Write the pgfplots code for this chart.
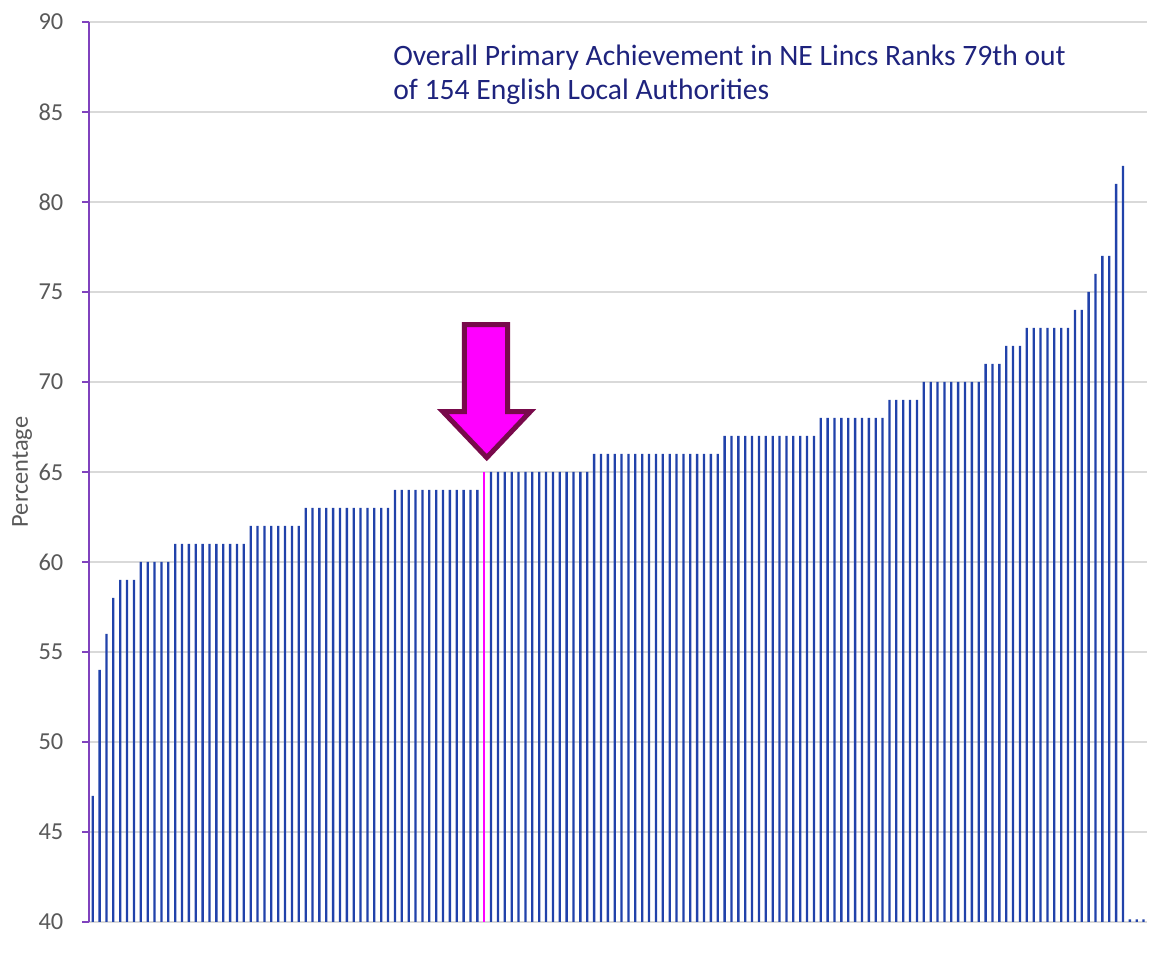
\documentclass[border=0pt]{standalone}
\usepackage{fontspec}
\setmainfont{Carlito}
\usepackage{pgfplots}
\pgfplotsset{compat=1.18}

\definecolor{barblue}{RGB}{33,66,170}
\definecolor{axispurple}{RGB}{128,66,190}
\definecolor{gridgrey}{RGB}{217,217,217}
\definecolor{ticgrey}{RGB}{89,89,89}
\definecolor{titlenavy}{RGB}{30,35,125}
\definecolor{arrowfill}{RGB}{255,0,255}
\definecolor{arrowedge}{RGB}{120,10,75}

\begin{document}
\begin{tikzpicture}
\useasboundingbox (-44.65pt,-19.5pt) rectangle (529.85pt,461pt);
\begin{axis}[
  at={(0,0)}, anchor=south west,
  scale only axis, width=528.85pt, height=450pt,
  xmin=-0.5, xmax=153.5, ymin=40, ymax=90,
  ytick={40,45,...,90}, xtick=\empty,
  ymajorgrids, grid style={draw=gridgrey, line width=1pt},
  axis lines*=left,
  x axis line style={draw=none},
  y axis line style={draw=axispurple, line width=1pt, -},
  ytick style={draw=axispurple, line width=1pt},
  tick align=outside, major tick length=3.5pt,
  yticklabel style={font=\fontsize{12.2}{14}\selectfont, text=ticgrey, xshift=-6pt},
  /pgf/number format/assume math mode=true,
  ylabel={Percentage},
  ylabel style={font=\fontsize{12.2}{14}\selectfont, text=ticgrey, at={(axis description cs:-0.0636,0.5)}, anchor=center},
  clip=true,
]
\addplot[ybar, bar width=1.15pt, bar shift=0pt, fill=barblue, draw=none] coordinates {
(0,47) (1,54) (2,56) (3,58) (4,59) (5,59) (6,59)
(7,60) (8,60) (9,60) (10,60) (11,60)
(12,61) (13,61) (14,61) (15,61) (16,61) (17,61) (18,61) (19,61) (20,61) (21,61) (22,61)
(23,62) (24,62) (25,62) (26,62) (27,62) (28,62) (29,62) (30,62)
(31,63) (32,63) (33,63) (34,63) (35,63) (36,63) (37,63) (38,63) (39,63) (40,63) (41,63) (42,63) (43,63)
(44,64) (45,64) (46,64) (47,64) (48,64) (49,64) (50,64) (51,64) (52,64) (53,64) (54,64) (55,64) (56,64)
(58,65) (59,65) (60,65) (61,65) (62,65) (63,65) (64,65) (65,65) (66,65) (67,65) (68,65) (69,65) (70,65) (71,65) (72,65)
(73,66) (74,66) (75,66) (76,66) (77,66) (78,66) (79,66) (80,66) (81,66) (82,66) (83,66) (84,66) (85,66) (86,66) (87,66) (88,66) (89,66) (90,66) (91,66)
(92,67) (93,67) (94,67) (95,67) (96,67) (97,67) (98,67) (99,67) (100,67) (101,67) (102,67) (103,67) (104,67) (105,67)
(106,68) (107,68) (108,68) (109,68) (110,68) (111,68) (112,68) (113,68) (114,68) (115,68)
(116,69) (117,69) (118,69) (119,69) (120,69)
(121,70) (122,70) (123,70) (124,70) (125,70) (126,70) (127,70) (128,70) (129,70)
(130,71) (131,71) (132,71)
(133,72) (134,72) (135,72)
(136,73) (137,73) (138,73) (139,73) (140,73) (141,73) (142,73)
(143,74) (144,74) (145,75) (146,76) (147,77) (148,77) (149,81) (150,82)
(151,40.15) (152,40.15) (153,40.15)
};
\addplot[ybar, bar width=1.15pt, bar shift=0pt, fill=arrowfill, draw=none] coordinates {(57,65)};
\draw[fill=arrowfill, draw=arrowedge, line width=2.5pt, line join=miter]
  (axis cs:54.1,73.18) -- (axis cs:60.4,73.18) -- (axis cs:60.4,68.35) -- (axis cs:63.7,68.35)
  -- (axis cs:57.37,65.8) -- (axis cs:51.0,68.35) -- (axis cs:54.1,68.35) -- cycle;
\node[anchor=base west, inner sep=0pt, text=titlenavy, font=\fontsize{14.8}{18}\selectfont]
  at (axis cs:43.7,87.61) {Overall Primary Achievement in NE Lincs Ranks 79th out};
\node[anchor=base west, inner sep=0pt, text=titlenavy, font=\fontsize{14.8}{18}\selectfont]
  at (axis cs:43.7,85.67) {of 154 English Local Authorities};
\end{axis}
\end{tikzpicture}
\end{document}
